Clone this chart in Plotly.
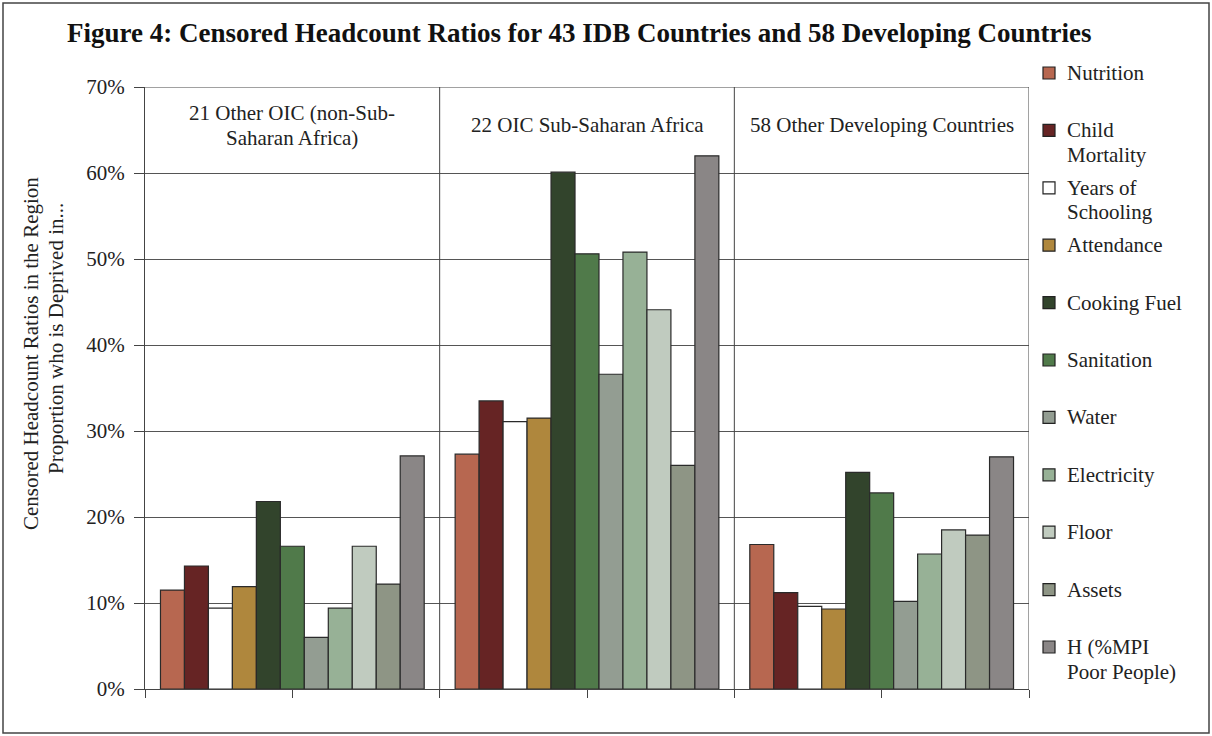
import plotly.graph_objects as go

# ---------------- data ----------------
regions = ["21 Other OIC (non-Sub-Saharan Africa)", "22 OIC Sub-Saharan Africa", "58 Other Developing Countries"]
region_label_lines = [["21 Other OIC (non-Sub-", "Saharan Africa)"], ["22 OIC Sub-Saharan Africa"], ["58 Other Developing Countries"]]
dimensions = ["Nutrition", "Child Mortality", "Years of Schooling", "Attendance", "Cooking Fuel",
              "Sanitation", "Water", "Electricity", "Floor", "Assets", "H (%MPI Poor People)"]
legend_lines = [["Nutrition"], ["Child", "Mortality"], ["Years of", "Schooling"], ["Attendance"], ["Cooking Fuel"],
                ["Sanitation"], ["Water"], ["Electricity"], ["Floor"], ["Assets"], ["H (%MPI", "Poor People)"]]
other_oic = [11.5, 14.3, 9.4, 11.9, 21.8, 16.6, 6.0, 9.4, 16.6, 12.2, 27.1]
oic_ssa = [27.3, 33.5, 31.1, 31.5, 60.1, 50.6, 36.6, 50.8, 44.1, 26.0, 62.0]
other_dev = [16.8, 11.2, 9.6, 9.3, 25.2, 22.8, 10.2, 15.7, 18.5, 17.9, 27.0]
colors = ["#B76750", "#662424", "#FFFFFF", "#AF873D", "#32442C", "#507A4A",
          "#939D92", "#97B196", "#C0CBBF", "#8E9585", "#8A8686"]
y_ticks = [0, 10, 20, 30, 40, 50, 60, 70]
y_tick_labels = ["0%", "10%", "20%", "30%", "40%", "50%", "60%", "70%"]
y_title_lines = ["Censored Headcount Ratios in the Region", "Proportion who is Deprived in..."]

FONT = "Liberation Serif, Times New Roman, serif"
W, H = 1212, 736
L, R, T, B = 145, 1029, 87, 689

def px(x):
    return (x - L) / (R - L)

def py(y):
    return (B - y) / (B - T)

region_x = list(range(len(regions)))
series = [other_oic, oic_ssa, other_dev]

fig = go.Figure()
for i, dim in enumerate(dimensions):
    fig.add_trace(go.Bar(
        x=region_x, y=[s[i] for s in series], name=dim,
        marker=dict(color=colors[i], line=dict(color="#2a2a2a", width=1.2)),
        showlegend=False,
    ))

shapes = []
# panel dividers
for xv in [0.5, 1.5, 2.5]:
    shapes.append(dict(type="line", xref="x", yref="paper", x0=xv, x1=xv, y0=0, y1=1,
                       line=dict(color="#444", width=1)))
shapes.append(dict(type="line", xref="paper", yref="y", x0=0, x1=1, y0=70, y1=70,
                   line=dict(color="#444", width=1)))
# outer frame
shapes.append(dict(type="rect", xref="paper", yref="paper", x0=px(3), x1=px(1209), y0=py(733), y1=py(3),
                   line=dict(color="#444", width=1.5), fillcolor="rgba(0,0,0,0)", layer="below"))

annotations = []
# title
annotations.append(dict(text="<b>Figure 4: Censored Headcount Ratios for 43 IDB Countries and 58 Developing Countries</b>",
                        xref="paper", yref="paper", x=px(579), y=py(33), xanchor="center", yanchor="middle",
                        showarrow=False, font=dict(family=FONT, size=27, color="#111")))
# region labels
for k, lines in enumerate(region_label_lines):
    n = len(lines)
    for j, line in enumerate(lines):
        ypix = 125 + (j - (n - 1) / 2) * 25
        annotations.append(dict(text=line, xref="x", yref="paper", x=k, y=py(ypix),
                                xanchor="center", yanchor="middle", showarrow=False,
                                font=dict(family=FONT, size=21, color="#222")))
# y-axis title (two rotated lines)
for (xpix, ypix), line in zip([(31, 354), (56, 339)], y_title_lines):
    annotations.append(dict(text=line, xref="paper", yref="paper", x=px(xpix), y=py(ypix),
                            xanchor="center", yanchor="middle", textangle=-90, showarrow=False,
                            font=dict(family=FONT, size=21, color="#222")))
# custom legend
for i, lines in enumerate(legend_lines):
    yc = 73 + i * 57.4
    shapes.append(dict(type="rect", xref="paper", yref="paper", x0=px(1043), x1=px(1055),
                       y0=py(yc + 6), y1=py(yc - 6), fillcolor=colors[i],
                       line=dict(color="#222", width=1.2)))
    for j, line in enumerate(lines):
        annotations.append(dict(text=line, xref="paper", yref="paper", x=px(1065), y=py(yc + j * 24.5),
                                xanchor="left", yanchor="middle", showarrow=False,
                                font=dict(family=FONT, size=21, color="#222")))

fig.update_layout(
    width=W, height=H,
    margin=dict(l=L, r=W - R, t=T, b=H - B),
    paper_bgcolor="white", plot_bgcolor="white",
    barmode="group", bargap=0.105, bargroupgap=0,
    font=dict(family=FONT, size=21, color="#222"),
    xaxis=dict(range=[-0.5, 2.5], tickvals=[-0.5, 0, 0.5, 1, 1.5, 2, 2.5], ticks="outside", ticklen=8,
               tickcolor="#444", showticklabels=False, showline=True, linecolor="#444", linewidth=1,
               showgrid=False, zeroline=False),
    yaxis=dict(range=[0, 70], tickmode="array", tickvals=y_ticks, ticktext=y_tick_labels,
               ticks="outside", ticklen=10, ticklabelstandoff=5,
               tickcolor="#444", showline=True, linecolor="#444", linewidth=1,
               showgrid=True, gridcolor="#555", gridwidth=1, zeroline=False,
               tickfont=dict(family=FONT, size=21, color="#222")),
    shapes=shapes, annotations=annotations,
)

fig.write_html("out.html")
